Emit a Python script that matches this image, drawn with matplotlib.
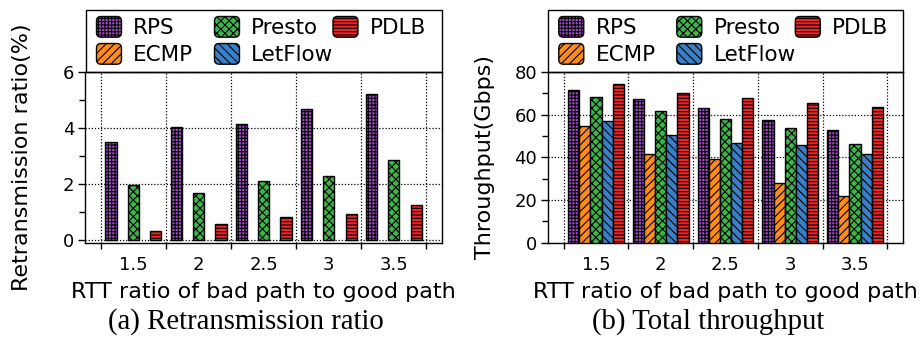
import matplotlib
matplotlib.use('Agg')
import matplotlib.pyplot as plt
import numpy as np
from matplotlib.patches import FancyBboxPatch, Rectangle
from matplotlib.legend import Legend
from matplotlib.legend_handler import HandlerPatch
from matplotlib.ticker import FixedLocator, NullFormatter, FixedFormatter

# ---- data ----
rtt_ratios = ['1.5', '2', '2.5', '3', '3.5']
schemes = ['RPS', 'ECMP', 'Presto', 'LetFlow', 'PDLB']

retx_rps = [3.50, 4.04, 4.13, 4.68, 5.20]
retx_ecmp = [0, 0, 0, 0, 0]
retx_presto = [1.96, 1.69, 2.10, 2.30, 2.85]
retx_letflow = [0, 0, 0, 0, 0]
retx_pdlb = [0.31, 0.57, 0.82, 0.94, 1.25]

tput_rps = [71.5, 67.3, 62.9, 57.3, 52.9]
tput_ecmp = [54.8, 41.8, 39.4, 28.2, 21.8]
tput_presto = [68.1, 61.8, 58.2, 53.8, 46.3]
tput_letflow = [57.1, 50.5, 46.6, 45.9, 41.6]
tput_pdlb = [74.5, 70.3, 67.8, 65.4, 63.8]

colors = ['#a24cc8', '#ff8c1a', '#3db54a', '#3a80c4', '#ee2526']
hatches = ['+++++', '////', 'xxxx', '\\\\\\\\', '-----']

plt.rcParams['font.family'] = ['DejaVu Sans']
plt.rcParams['hatch.linewidth'] = 0.8

fig = plt.figure(figsize=(9.24, 3.47), dpi=100)
W, H = 924.0, 347.0


def axes_px(x0, x1, ytop, ybot):
    return fig.add_axes([x0 / W, 1 - ybot / H, (x1 - x0) / W, (ybot - ytop) / H])


ax1 = axes_px(85.3, 442.0, 72.0, 242.7)
ax2 = axes_px(548.0, 903.0, 72.0, 242.7)

bar_w = 0.172
x = np.arange(len(rtt_ratios))


def rounded(legend, orig_handle, xdescent, ydescent, width, height, fontsize):
    r = 0.22 * height
    return FancyBboxPatch((-xdescent + r, -ydescent + r), width - 2 * r, height - 2 * r,
                          boxstyle='round,pad=%f' % r)


def legend_block(ax, x0, x1):
    """Legend above the axes: a framed box holding three columns of entries."""
    top, bottom = 10.0, 72.0
    fig.add_artist(Rectangle((x0 / W, 1 - bottom / H), (x1 - x0) / W, (bottom - top) / H,
                             transform=fig.transFigure, fill=False, edgecolor='black',
                             linewidth=1.0, zorder=5))
    handles = [Rectangle((0, 0), 1, 1, facecolor=colors[j], hatch=hatches[j],
                         edgecolor='black', linewidth=1.0) for j in range(len(schemes))]
    columns = [[0, 1], [2, 3], [4]]
    col_offsets = [10.5, 128.5, 247.0]
    for idx, off in zip(columns, col_offsets):
        leg = Legend(ax, [handles[i] for i in idx], [schemes[i] for i in idx],
                     loc='upper left', bbox_to_anchor=((x0 + off) / W, 1 - 16.5 / H),
                     bbox_transform=fig.transFigure, borderaxespad=0, borderpad=0,
                     fontsize=15.5, handlelength=1.16, handleheight=1.1,
                     handletextpad=0.54, labelspacing=0.25, frameon=False,
                     handler_map={Rectangle: HandlerPatch(patch_func=rounded)})
        ax.add_artist(leg)


def draw(ax, series, ylim, yticks, yminor, ylabel, ylabel_x):
    for j, vals in enumerate(series):
        # bars with zero value carry no outline
        lw = [1.0 if v > 0 else 0.0 for v in vals]
        ax.bar(x + (j - 2) * bar_w, vals, bar_w, color=colors[j], hatch=hatches[j],
               edgecolor='black', linewidth=lw, zorder=3)
    ax.set_xlim(-0.5 - 0.24, len(x) - 0.5 + 0.24)
    ax.set_ylim(*ylim)
    bounds = np.arange(len(x) + 1) - 0.5
    ax.xaxis.set_major_locator(FixedLocator(bounds))
    ax.xaxis.set_major_formatter(NullFormatter())
    ax.xaxis.set_minor_locator(FixedLocator(x))
    ax.xaxis.set_minor_formatter(FixedFormatter(rtt_ratios))
    ax.tick_params(axis='x', which='major', direction='out', length=4.5, width=1)
    ax.tick_params(axis='x', which='minor', length=0, labelsize=13, pad=9.5)
    ax.set_yticks(yticks)
    ax.yaxis.set_minor_locator(FixedLocator(yminor))
    ax.tick_params(axis='y', which='major', direction='out', length=5, width=1, labelsize=13, pad=3)
    ax.tick_params(axis='y', which='minor', direction='out', length=4, width=1)
    ax.grid(True, which='major', color='black', linestyle=(0, (1, 1.5)), linewidth=0.9, zorder=0)
    ax.set_axisbelow(True)
    for s in ax.spines.values():
        s.set_linewidth(1.0)
    ax.set_xlabel('RTT ratio of bad path to good path', fontsize=16, labelpad=6)
    ax.set_ylabel(ylabel, fontsize=16)
    ax.yaxis.set_label_coords(ylabel_x, 0.5)


draw(ax1, [retx_rps, retx_ecmp, retx_presto, retx_letflow, retx_pdlb],
     (-0.1, 6), [0, 2, 4, 6], [1, 3, 5], 'Retransmission ratio(%)', -0.15)
draw(ax2, [tput_rps, tput_ecmp, tput_presto, tput_letflow, tput_pdlb],
     (0, 80), [0, 20, 40, 60, 80], [10, 30, 50, 70], 'Throughput(Gbps)', -0.15)

legend_block(ax1, 86.0, 441.5)
legend_block(ax2, 548.3, 902.7)

fig.text(246 / W, 1 - 322 / H, '(a) Retransmission ratio', fontsize=20.7,
         family='Liberation Serif', ha='center', va='center')
fig.text(708 / W, 1 - 322 / H, '(b) Total throughput', fontsize=20.7,
         family='Liberation Serif', ha='center', va='center')

fig.savefig('out.png', dpi=100)
